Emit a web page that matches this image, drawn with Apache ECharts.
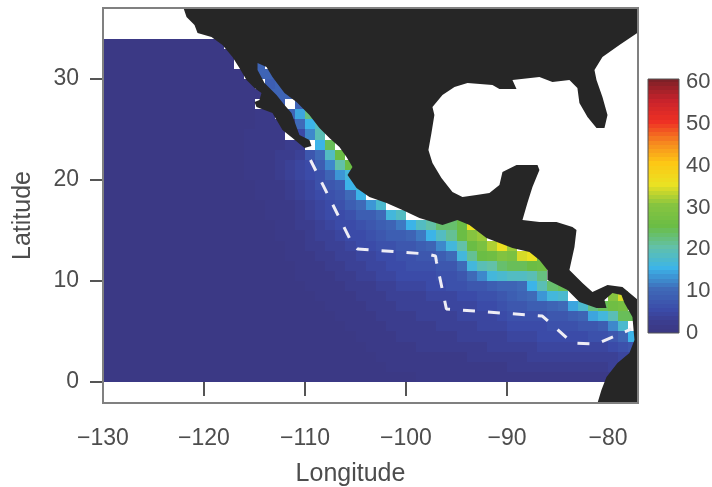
<!DOCTYPE html>
<html><head><meta charset="utf-8">
<style>html,body{margin:0;padding:0;background:#fff}#c{width:712px;height:487px}</style>
<script src="https://cdn.jsdelivr.net/npm/echarts@6/dist/echarts.min.js"></script>
</head><body><div id="c"></div>
<script>
// Gridded values: one string per 1-degree latitude row (top = 33..34N, bottom = 0..1N),
// one base-36 character per 1-degree longitude column from -130; '.' = no data.
const cellRows = [
"0000000000 00.",
"0000000000 000",
"0000000000 000..9.",
"0000000000 0000.99",
"0000000000 00000.89",
"0000000000 000000999",
"0000000000 00000.08.9",
"0000000000 0000011.9e m",
"0000000000 000001111a fi",
"0000000000 00001111.5 cj.",
"0000000000 0000111122 .fo.",
"0000000000 0000111223 7aip",
"0000000000 0000111234 58ckp",
"0000000000 0000111234 569dg",
"0000000000 0000011123 4678fh",
"0000000000 0000011123 4567af.",
"0000000000 0000001112 34568adh",
"0000000000 0000001112 3455688agi",
"0000000000 0000000112 234556789b fiknnpz",
"0000000000 0000000111 2334556788 9bfilpuv",
"0000000000 0000000011 2233455667 789cgkpswz v",
"0000000000 0000000011 1223344556 6778aglpqt syzq",
"0000000000 0000000001 1122334455 66677agjkn oopq",
"0000000000 0000000001 1112233445 555667acgh iijm",
"0000000000 0000000000 1111222334 4455667789 9afjno",
"0000000000 0000000000 0111122233 3344455667 89adgh....uy",
"0000000000 0000000000 0011112223 3333444556 77889aehmoqr",
"0000000000 0000000000 0001111222 2333344445 66667789egjoo",
"0000000000 0000000000 0000111122 2223333444 5555666778ch.",
"0000000000 0000000000 0000011112 2222233333 444555556679f",
"0000000000 0000000000 0000001111 1222222233 3334444444567",
"0000000000 0000000000 0000000111 1111112222 2233333333344",
"0000000000 0000000000 0000000011 1111111111 2222222222333",
"0000000000 0000000000 0000000000 0111111111 1111111111122"
];
const firstLon = -130, topLat = 33;
const colorStops = [0,1,2,3,5,10,15,20,25,30,35,40,45,50,55,60];
const colorScale = ['#3b3985','#3b3a88','#3b3d8e','#3b4196','#3b4ba8','#3f6ab8','#3cb4e8','#62c1a8','#6bbd45','#86c440','#eae122','#fdc815','#f6881f','#ee3124','#c8232b','#7d2027'];
const colorbarTicks = [0,10,20,30,40,50,60];
const lonTicks = [-130,-120,-110,-100,-90,-80];
const latTicks = [0,10,20,30];
const land = [[-122.03,37.03],[-121.73,36.14],[-120.94,35.34],[-120.64,34.55],[-119.26,34.16],[-118.17,33.36],[-117.18,32.18],[-116.49,31.09],[-115.79,29.9],[-115,29.11],[-114.31,28.61],[-114.51,27.92],[-115,27.72],[-114.8,27.23],[-113.22,26.63],[-112.23,24.95],[-111.24,24.16],[-110.05,23.17],[-109.36,23.36],[-109.56,23.96],[-110.55,24.45],[-110.84,25.25],[-111.34,26.63],[-112.03,27.42],[-112.82,28.41],[-114.01,29.6],[-114.7,30.89],[-114.7,31.58],[-113.81,31.19],[-113.22,30.2],[-112.03,28.61],[-110.84,27.72],[-109.56,26.43],[-108.57,25.15],[-107.58,24.16],[-106.59,23.27],[-105.89,22.28],[-105.3,21.29],[-105.79,20.49],[-104.9,19.21],[-103.62,18.32],[-101.93,17.72],[-100.35,17.03],[-98.67,16.24],[-96.39,15.54],[-94.91,16.04],[-93.72,15.54],[-92.03,14.26],[-89.46,13.27],[-87.78,12.87],[-86.79,12.08],[-86,11.09],[-86,10.1],[-84.01,9.11],[-82.83,7.92],[-81.14,7.33],[-80.15,7.33],[-80.35,8.12],[-79.56,8.81],[-78.67,8.61],[-78.37,7.82],[-77.58,6.44],[-77.38,4.16],[-77.88,2.87],[-79.06,1.88],[-80.15,0.5],[-80.65,-0.79],[-81.04,-2.08],[-77.03,-2.08],[-77.03,8.12],[-78.57,9.41],[-80.05,9.6],[-81.54,8.91],[-82.53,9.8],[-83.82,11.09],[-83.32,13.37],[-83.12,15.05],[-83.52,15.35],[-85.1,15.84],[-86.79,15.84],[-88.47,16.04],[-87.98,17.72],[-87.48,19.31],[-86.79,20.99],[-86.98,21.48],[-89.06,21.48],[-90.45,20.79],[-90.75,19.5],[-91.74,18.71],[-93.03,18.51],[-94.41,18.32],[-95.4,18.81],[-96.49,20.2],[-97.38,21.68],[-97.78,22.97],[-97.48,24.65],[-97.19,26.43],[-97.38,27.23],[-96.39,28.41],[-95.2,29.2],[-93.91,29.6],[-91.44,29.4],[-90.75,29],[-89.06,29],[-89.46,29.9],[-86.79,30.2],[-85.5,29.7],[-83.82,29.9],[-83.03,29.11],[-82.83,27.62],[-82.03,26.24],[-81.14,25.15],[-80.35,25.15],[-80.05,26.43],[-80.55,28.22],[-81.14,29.9],[-81.34,30.89],[-80.55,32.18],[-78.87,33.36],[-77.03,34.6],[-77.03,37.03]];
const boundary = [[-109.46,21.98],[-105.4,13.86],[-104.8,13.17],[-97.87,12.67],[-97.08,12.47],[-96.98,11.88],[-96,7.23],[-86.5,6.53],[-83.52,3.86],[-81.14,3.76],[-77.68,5.25]];

const cells = [];
cellRows.forEach((row, r) => {
  row.replace(/ /g,'').split('').forEach((ch, c) => {
    if (ch !== '.') cells.push([firstLon + c, topLat - r, parseInt(ch, 36)]);
  });
});
const colorOf = v => {
  const x = Math.min(v, 60);
  let k = 0;
  while (k < colorStops.length - 2 && x > colorStops[k + 1]) k++;
  const t = (x - colorStops[k]) / (colorStops[k + 1] - colorStops[k]);
  return echarts.color.lerp(t, [colorScale[k], colorScale[k + 1]]);
};
const barSteps = [];
for (let v = 0; v <= 60; v++) barSteps.push([v, Math.min(v + 1, 60.7)]);

const ink = '#4d4d4d', font = '"Liberation Sans", Arial, sans-serif';
const chart = echarts.init(document.getElementById('c'), null, {renderer:'canvas'});
chart.setOption({
  animation:false,
  backgroundColor:'#fff',
  grid:[
    {left:103, top:8, width:535, height:395, outerBoundsMode:'none', containLabel:false, show:true, z:10, backgroundColor:'transparent', borderColor:'#808080', borderWidth:2},
    {left:648, top:79, width:31, height:254, outerBoundsMode:'none', containLabel:false, show:true, z:10, backgroundColor:'transparent', borderColor:'#555', borderWidth:1}
  ],
  xAxis:[
    {type:'value', gridIndex:0, min:-130, max:-77.03, position:'bottom', splitLine:{show:false},
     axisLine:{show:false},
     axisTick:{length:14, lineStyle:{color:'#555', width:2}, customValues:lonTicks},
     axisLabel:{color:ink, fontFamily:font, fontSize:23, margin:24, customValues:lonTicks, formatter:v=>'\u2212'+Math.abs(v)},
     name:'Longitude', nameLocation:'middle', nameGap:59, nameTextStyle:{color:ink, fontFamily:font, fontSize:25, padding:[0,40,0,0]}},
    {type:'value', gridIndex:1, min:0, max:1, show:false}
  ],
  yAxis:[
    {type:'value', gridIndex:0, min:-2.08, max:37.03, splitLine:{show:false},
     axisLine:{show:false},
     axisTick:{length:13, lineStyle:{color:'#555', width:2}, customValues:latTicks},
     axisLabel:{color:ink, fontFamily:font, fontSize:23, margin:24, padding:[3,0,0,0], customValues:latTicks},
     name:'Latitude', nameLocation:'middle', nameGap:67, nameTextStyle:{color:ink, fontFamily:font, fontSize:25, padding:[0,20,0,0]}},
    {type:'value', gridIndex:1, min:0, max:60.7, position:'right', splitLine:{show:false},
     axisLine:{show:false}, axisTick:{show:false},
     axisLabel:{color:ink, fontFamily:font, fontSize:22, margin:7, padding:[3,0,0,0], customValues:colorbarTicks}}
  ],
  series:[
    {type:'custom', xAxisIndex:0, yAxisIndex:0, z:2, data:cells, encode:{x:0,y:1},
     renderItem:(p,api)=>{
       const a = api.coord([api.value(0), api.value(1)+1]).map(Math.round);
       const b = api.coord([api.value(0)+1, api.value(1)]).map(Math.round);
       return {type:'rect', shape:{x:a[0], y:a[1], width:b[0]-a[0], height:b[1]-a[1]},
               style:{fill:colorOf(api.value(2))}};
     }},
    {type:'custom', xAxisIndex:0, yAxisIndex:0, z:3, data:[0], encode:{x:[],y:[]},
     renderItem:(p,api)=>({type:'polygon', shape:{points:land.map(q=>api.coord(q))}, style:{fill:'#262626'}})},
    {type:'line', xAxisIndex:0, yAxisIndex:0, z:4, data:boundary, showSymbol:false, silent:true,
     lineStyle:{color:'#eeedf5', width:3, type:[12,13]}},
    {type:'custom', xAxisIndex:1, yAxisIndex:1, z:2, data:barSteps, encode:{y:[0,1]},
     renderItem:(p,api)=>{
       const a = api.coord([0, api.value(1)]);
       const b = api.coord([1, api.value(0)]);
       return {type:'rect', shape:{x:a[0], y:Math.round(a[1]), width:b[0]-a[0], height:Math.round(b[1])-Math.round(a[1])},
               style:{fill:colorOf(api.value(0))}};
     }}
  ]
});
</script></body></html>
